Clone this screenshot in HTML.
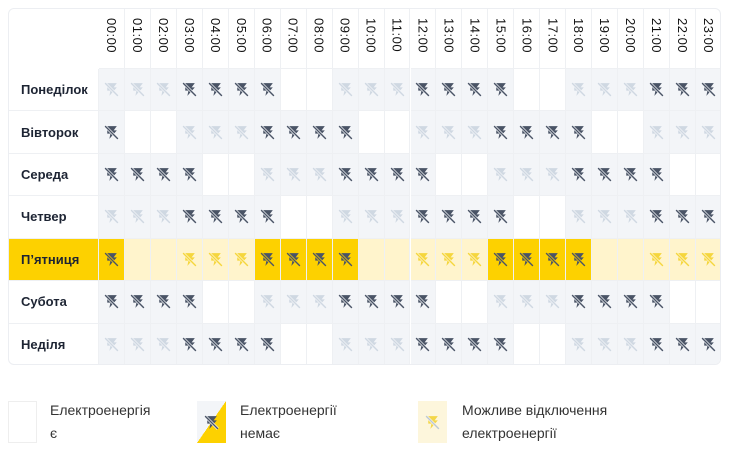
<!DOCTYPE html><html><head><meta charset="utf-8"><style>
body{margin:0;width:740px;height:454px;background:#fff;font-family:"Liberation Sans",sans-serif;position:relative;overflow:hidden}
.t{position:absolute;left:8px;top:8px;width:713px;height:357px;border:1px solid #eceef2;border-radius:6px;box-sizing:border-box;overflow:hidden}
.c{position:absolute;box-sizing:border-box;border-right:1px solid #eef0f3;border-bottom:1px solid #eef0f3}
.h{font-size:13px;color:#111;writing-mode:vertical-rl;display:flex;align-items:center;justify-content:flex-start;padding-top:9px;letter-spacing:0.5px}
.l{font-size:13px;font-weight:bold;color:#1d2433;display:flex;align-items:center;padding-left:12px}
.i{display:flex;align-items:center;justify-content:center}
.lg{position:absolute;font-size:14px;color:#333;line-height:23px}
.bx{position:absolute;width:29px;height:42px;border:1px solid #eee;box-sizing:border-box}
</style></head><body>
<div class="t" id="t"></div>
<div class="bx" style="left:8px;top:401px"></div>
<div class="lg" style="left:50px;top:399px">Електроенергія<br>є</div>
<div class="bx" style="left:197px;top:401px;border:none;background:linear-gradient(to bottom right,#f3f5f8 50%,#fdd100 50%)"><svg style="position:absolute;left:6px;top:13px" width="17" height="17" viewBox="0 0 16 16"><path d="M4 2h9l-3 4h3l-7 8 1-5H4z" fill="#4a5466"/><path d="M2 2l12 12" stroke="#f3f5f8" stroke-width="2.6"/><path d="M2 2l12 12" stroke="#4a5466" stroke-width="1.3"/></svg></div>
<div class="lg" style="left:240px;top:399px">Електроенергії<br>немає</div>
<div class="bx" style="left:418px;top:401px;border:none;background:#fdf6dc"><svg style="position:absolute;left:6px;top:13px" width="17" height="17" viewBox="0 0 16 16"><path d="M4 2h9l-3 4h3l-7 8 1-5H4z" fill="#f3d64a"/><path d="M2 2l12 12" stroke="#fdf6dc" stroke-width="2.6"/><path d="M2 2l12 12" stroke="#bcc8d6" stroke-width="1.3"/></svg></div>
<div class="lg" style="left:462px;top:399px">Можливе відключення<br>електроенергії</div>
<script>
const days=["Понеділок","Вівторок","Середа","Четвер","П’ятниця","Субота","Неділя"];
const A="LLLDDDDeeLLLDDDDeeLLLDDD",B="DeeLLLDDDDeeLLLDDDDeeLLL",C="DDDDeeLLLDDDDeeLLLDDDDee";
const rows=[A,B,C,A,B,C,A];
const t=document.getElementById('t');let h='';
const cw=(713-90)/24, rh=(357-60)/7;
for(let j=0;j<24;j++){h+=`<div class="c h" style="left:${90+j*cw}px;top:0;width:${cw}px;height:60px">${String(j).padStart(2,'0')}:00</div>`}
function icon(fill,bg,sl){return `<svg width="17" height="17" viewBox="0 0 16 16"><path d="M4 2h9l-3 4h3l-7 8 1-5H4z" fill="${fill}"/><path d="M2 2l12 12" stroke="${bg}" stroke-width="2.6"/><path d="M2 2l12 12" stroke="${sl}" stroke-width="1.3"/></svg>`}
for(let r=0;r<7;r++){const fri=r==4;const y=60+r*rh;
h+=`<div class="c l" style="left:0;top:${y}px;width:90px;height:${rh}px;${fri?'background:#fdd100':''}">${days[r]}</div>`;
for(let j=0;j<24;j++){const s=rows[r][j];let bg,ic='';
if(fri){if(s=='D'){bg='#fdd100';ic=icon('#4a5466',bg,'#4a5466')}else if(s=='L'){bg='#fff4cc';ic=icon('#f5d63d',bg,'#f5d63d')}else bg='#fff4cc'}
else{if(s=='D'){bg='#f3f5f8';ic=icon('#4a5466',bg,'#4a5466')}else if(s=='L'){bg='#f3f5f8';ic=icon('#cfd8e2',bg,'#cfd8e2')}else bg='#fff'}
h+=`<div class="c i" style="left:${90+j*cw}px;top:${y}px;width:${cw}px;height:${rh}px;background:${bg}">${ic}</div>`}}
t.innerHTML=h;
</script></body></html>
